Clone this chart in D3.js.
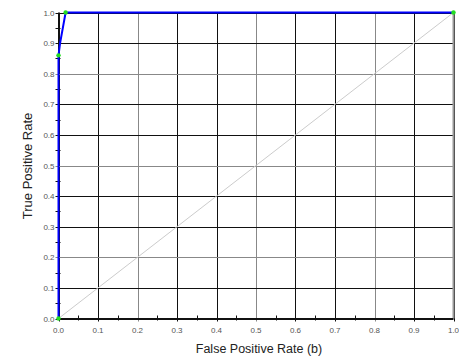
<!DOCTYPE html>
<html><head><meta charset="utf-8">
<script src="https://cdn.jsdelivr.net/npm/d3@7"></script>
<style>body{margin:0;background:#fff}svg{display:block}</style>
</head><body>
<svg id="c" width="459" height="358"></svg>
<script>
const fpr = [0, 0, 0.004, 0.018, 1];
const tpr = [0, 0.86, 0.9, 1.0, 1.0];
const markerIdx = [0, 1, 3, 4];
const tickValues = [0,0.1,0.2,0.3,0.4,0.5,0.6,0.7,0.8,0.9,1.0];
const minorTicks = [0.05,0.15,0.25,0.35,0.45,0.55,0.65,0.75,0.85,0.95];
const xTitle = "False Positive Rate (b)";
const yTitle = "True Positive Rate";

const svg = d3.select("#c");
const x = d3.scaleLinear().domain([0,1]).range([58.5,453.5]);
const y = d3.scaleLinear().domain([0,1]).range([318.5,12.5]);
const g = svg.append("g");

// grid
g.selectAll(".vg").data(tickValues).join("line")
 .attr("x1",d=>Math.round(x(d))+0.5).attr("x2",d=>Math.round(x(d))+0.5)
 .attr("y1",y(1)).attr("y2",y(0)+3).attr("stroke",(d,i)=>i%3===2?"#888":"#111").attr("stroke-width",1);
g.selectAll(".hg").data(tickValues).join("line")
 .attr("y1",d=>Math.round(y(d))+0.5).attr("y2",d=>Math.round(y(d))+0.5)
 .attr("x1",x(0)-3).attr("x2",x(1)).attr("stroke",(d,i)=>i%3===2?"#888":"#111").attr("stroke-width",1);
g.append("line").attr("x1",x(1)).attr("x2",x(1)).attr("y1",y(1)).attr("y2",y(0)).attr("stroke","#999").attr("stroke-width",2);

// minor ticks
g.selectAll(".mx").data(minorTicks).join("line")
 .attr("x1",d=>Math.round(x(d))+0.5).attr("x2",d=>Math.round(x(d))+0.5)
 .attr("y1",y(0)-3).attr("y2",y(0)+2).attr("stroke","#111");
g.selectAll(".my").data(minorTicks).join("line")
 .attr("y1",d=>Math.round(y(d))+0.5).attr("y2",d=>Math.round(y(d))+0.5)
 .attr("x1",x(0)-3).attr("x2",x(0)+2).attr("stroke","#111");

g.append("line").attr("x1",x(0)).attr("x2",x(1)).attr("y1",y(0)).attr("y2",y(0)).attr("stroke","#111");
g.append("line").attr("x1",x(0)).attr("x2",x(0)).attr("y1",y(0)).attr("y2",y(1)).attr("stroke","#111");

// diagonal
g.append("line").attr("x1",x(0)).attr("y1",y(0)).attr("x2",x(1)).attr("y2",y(1))
 .attr("stroke","#ccc").attr("stroke-width",1);

const fmt = d3.format(".1f");
g.selectAll(".xl").data(tickValues).join("text")
 .attr("x",d=>x(d)).attr("y",y(0)+14).attr("text-anchor","middle")
 .attr("font-family","Liberation Sans, Arial, sans-serif").attr("font-size",8).attr("fill","#555")
 .text(fmt);
g.selectAll(".yl").data(tickValues).join("text")
 .attr("x",x(0)-4).attr("y",d=>y(d)+3).attr("text-anchor","end")
 .attr("font-family","Liberation Sans, Arial, sans-serif").attr("font-size",8).attr("fill","#555")
 .text(fmt);

const pts = fpr.map((v,i)=>[v,tpr[i]]);
g.append("path").datum(pts)
 .attr("d",d3.line().x(d=>x(d[0])).y(d=>y(d[1])))
 .attr("fill","none").attr("stroke","#0000ff").attr("stroke-width",2);
g.selectAll(".pt").data(markerIdx.map(i=>pts[i])).join("circle")
 .attr("cx",d=>x(d[0])).attr("cy",d=>y(d[1])).attr("r",2.2).attr("fill","#22dd22");

svg.append("text").attr("x",259).attr("y",353).attr("text-anchor","middle")
 .attr("font-family","Liberation Sans, Arial, sans-serif").attr("font-size",12.5).attr("fill","#222").text(xTitle);
svg.append("text").attr("transform","translate(32,166) rotate(-90)").attr("text-anchor","middle")
 .attr("font-family","Liberation Sans, Arial, sans-serif").attr("font-size",13).attr("fill","#222").text(yTitle);
</script>
</body></html>
